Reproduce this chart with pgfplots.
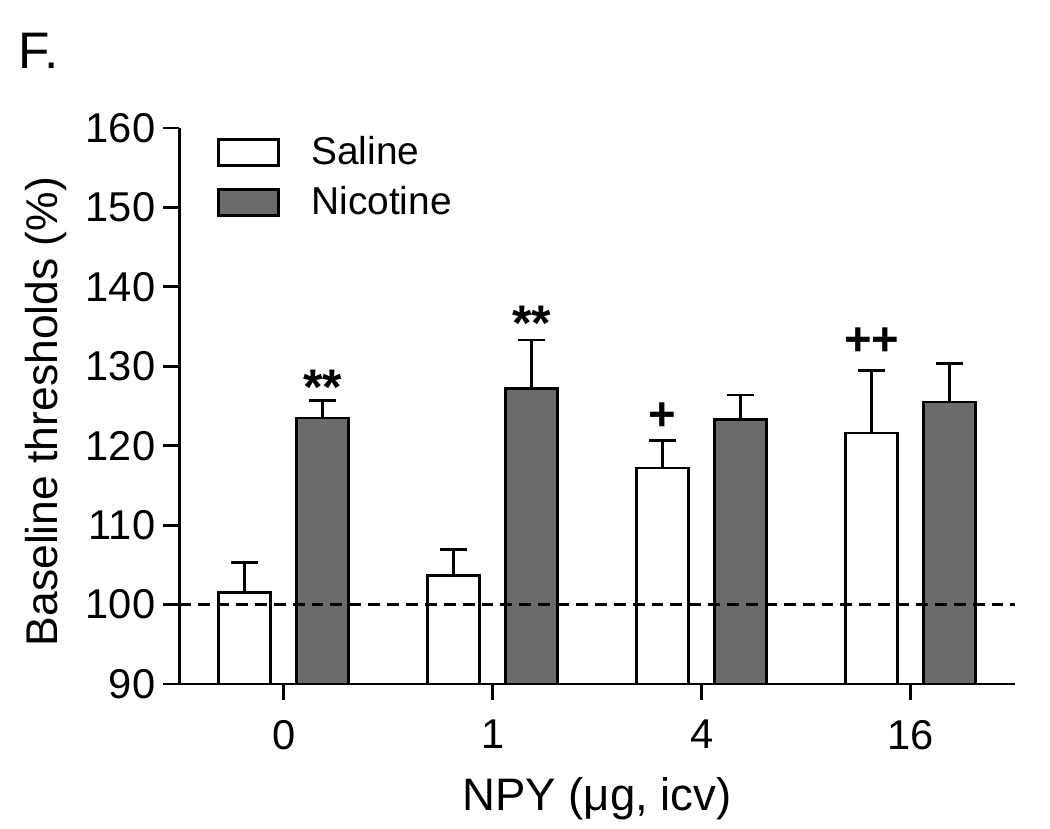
\documentclass[border=0pt]{standalone}
\usepackage{fontspec}
\setmainfont{Liberation Sans}
\usepackage{pgfplots}
\pgfplotsset{compat=1.18}
\usepackage{pgfplotstable}
\definecolor{nic}{RGB}{107,107,107}

% x = dose position (0,1,2,3 for 0,1,4,16 ug) shifted by the half group offset
\pgfplotstableread{
x y e
-0.1864 101.5 3.8
0.8136 103.7 3.2
1.8136 117.2 3.5
2.8136 121.6 7.9
}\saline
\pgfplotstableread{
x y e
0.1864 123.5 2.2
1.1864 127.2 6.1
2.1864 123.3 3.1
3.1864 125.5 4.9
}\nicotine

\begin{document}
\begin{tikzpicture}
\useasboundingbox (-64.55pt,-51.84pt) rectangle (313.45pt,246.24pt);
\begin{axis}[
  scale only axis, width=300.85pt, height=200.16pt,
  xmin=-0.5, xmax=3.5, ymin=90, ymax=160,
  axis lines*=left,
  axis line style={line width=1pt, black},
  every tick/.style={black, line width=1pt},
  major tick length=5.8pt, tick align=outside,
  xtick={0,1,2,3}, xticklabels={0,1,4,16},
  ytick={90,100,...,160},
  /pgf/number format/assume math mode=true,
  tick label style={font=\fontsize{15}{18}\selectfont},
  yticklabel style={xshift=0.7pt},
  xticklabel style={yshift=-3.6pt},
  xlabel={NPY (μg, icv)},
  ylabel={Baseline thresholds (\%)},
  xlabel style={font=\fontsize{16.4}{19}\selectfont, at={(axis description cs:0.5,-0.207)}, anchor=center},
  ylabel style={font=\fontsize{16}{19}\selectfont, at={(axis description cs:-0.16,0.49)}, anchor=center},
  clip=false,
  legend cell align=left,
  legend style={draw=none, fill=none, at={(axis description cs:0.045,0.986)}, anchor=north west,
    inner sep=0pt, nodes={inner sep=0pt}, row sep=6.3pt,
    font=\fontsize{14}{17}\selectfont,
    /tikz/every odd column/.append style={column sep=11.2pt}},
]
\addplot[ybar, bar width=18.7pt, bar shift=0pt, fill=white, draw=black, line width=1pt,
  legend image code/.code={\draw[fill=white, draw=black, line width=1pt] (0pt,-4.7pt) rectangle (21.6pt,4.7pt);},
  error bars/.cd, y dir=plus, y explicit,
  error bar style={line width=1pt, black},
  error mark options={rotate=90, line width=1pt, mark size=4.9pt, black}]
  table[x=x, y=y, y error=e] {\saline};
\addlegendentry{Saline}
\addplot[ybar, bar width=18.7pt, bar shift=0pt, fill=nic, draw=black, line width=1pt,
  legend image code/.code={\draw[fill=nic, draw=black, line width=1pt] (0pt,-4.7pt) rectangle (21.6pt,4.7pt);},
  error bars/.cd, y dir=plus, y explicit,
  error bar style={line width=1pt, black},
  error mark options={rotate=90, line width=1pt, mark size=4.9pt, black}]
  table[x=x, y=y, y error=e] {\nicotine};
\addlegendentry{Nicotine}
\addplot[sharp plot, black, line width=1pt, dash pattern=on 4.3pt off 2.5pt, forget plot]
  coordinates {(-0.5,100) (3.5,100)};
\node[anchor=base, font=\fontsize{18}{20}\selectfont\bfseries] at (axis cs:0.1864,125.2) {**};
\node[anchor=base, font=\fontsize{18}{20}\selectfont\bfseries] at (axis cs:1.1864,133.3) {**};
\node[anchor=base, font=\fontsize{17}{20}\selectfont\bfseries] at (axis cs:1.8136,121.9) {+};
\node[anchor=base, font=\fontsize{17}{20}\selectfont\bfseries] at (axis cs:2.8136,131.4) {++};
\end{axis}
\node[anchor=north west, inner sep=0pt, font=\fontsize{18.5}{22}\selectfont] at (-58pt,234.5pt) {F.};
\end{tikzpicture}
\end{document}
